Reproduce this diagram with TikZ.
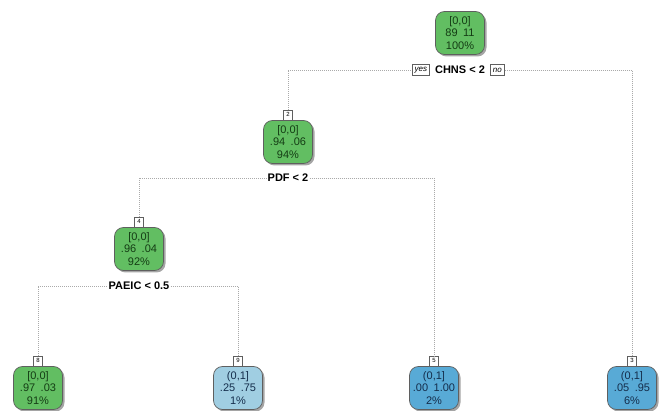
\documentclass[tikz,border=0pt]{standalone}
\usepackage{fontspec}
\setmainfont{Liberation Sans}
\usetikzlibrary{shadows,positioning}
\definecolor{leafgreen}{RGB}{98,190,98}
\definecolor{paleblue}{RGB}{160,206,226}
\definecolor{midblue}{RGB}{88,170,214}
\definecolor{edgegray}{RGB}{170,170,170}
\definecolor{boxborder}{RGB}{95,95,95}
\definecolor{greentext}{RGB}{20,60,20}
\definecolor{bluetext}{RGB}{20,45,75}
\tikzset{
  x=1pt, y=-1pt,
  treebox/.style={draw=boxborder, line width=0.7pt, rounded corners=9pt,
    minimum width=49pt, minimum height=43pt, inner sep=0pt, align=center,
    font=\fontsize{11}{12.8}\selectfont,
    drop shadow={shadow xshift=2pt, shadow yshift=-2pt, fill=black!50, opacity=0.7}},
  gnode/.style={treebox, fill=leafgreen, text=greentext},
  pbnode/.style={treebox, fill=paleblue, text=bluetext},
  bnode/.style={treebox, fill=midblue, text=bluetext},
  numtag/.style={draw=boxborder, fill=white, line width=0.5pt, minimum width=9pt,
    minimum height=10pt, inner sep=0pt, font=\fontsize{6}{6}\selectfont, anchor=south},
  splitlabel/.style={font=\bfseries\fontsize{11}{11}\selectfont, inner sep=1pt},
  sidetag/.style={draw=boxborder, fill=white, line width=0.5pt, inner xsep=2.5pt,
    inner ysep=1.5pt, minimum height=11pt, font=\itshape\fontsize{8}{8}\selectfont},
  conn/.style={draw=edgegray, line width=0.6pt, dash pattern=on 1pt off 1pt}
}
\begin{document}
\begin{tikzpicture}
\useasboundingbox[fill=white] (0,0) rectangle (665,411);

% internal nodes
\node[gnode] (n1) at (460,33) {[0,0]\\89\enspace11\\100\%};
\node[gnode] (n2) at (288,142) {[0,0]\\.94\enspace.06\\94\%};
\node[gnode] (n4) at (139,249) {[0,0]\\.96\enspace.04\\92\%};

% leaves
\node[gnode]  (n8) at (38,388)  {[0,0]\\.97\enspace.03\\91\%};
\node[pbnode] (n9) at (238,388) {(0,1]\\.25\enspace.75\\1\%};
\node[bnode]  (n5) at (434,388) {(0,1]\\.00\enspace1.00\\2\%};
\node[bnode]  (n3) at (632,388) {(0,1]\\.05\enspace.95\\6\%};

% node numbers
\node[numtag] (t2) at (n2.north) {2};
\node[numtag] (t4) at (n4.north) {4};
\node[numtag] (t8) at (n8.north) {8};
\node[numtag] (t9) at (n9.north) {9};
\node[numtag] (t5) at (n5.north) {5};
\node[numtag] (t3) at (n3.north) {3};

% split labels
\node[splitlabel] (s1) at (460,70) {CHNS < 2};
\node[sidetag, left=4pt of s1] (yes) {yes};
\node[sidetag, right=4pt of s1] (no) {no};
\node[splitlabel] (s2) at (288,178) {PDF < 2};
\node[splitlabel] (s4) at (139,286) {PAEIC < 0.5};

% branches
\draw[conn] (t2.north) |- (yes.west);
\draw[conn] (no.east) -| (t3.north);
\draw[conn] (t4.north) |- (s2.west);
\draw[conn] (s2.east) -| (t5.north);
\draw[conn] (t8.north) |- (s4.west);
\draw[conn] (s4.east) -| (t9.north);
\end{tikzpicture}
\end{document}
